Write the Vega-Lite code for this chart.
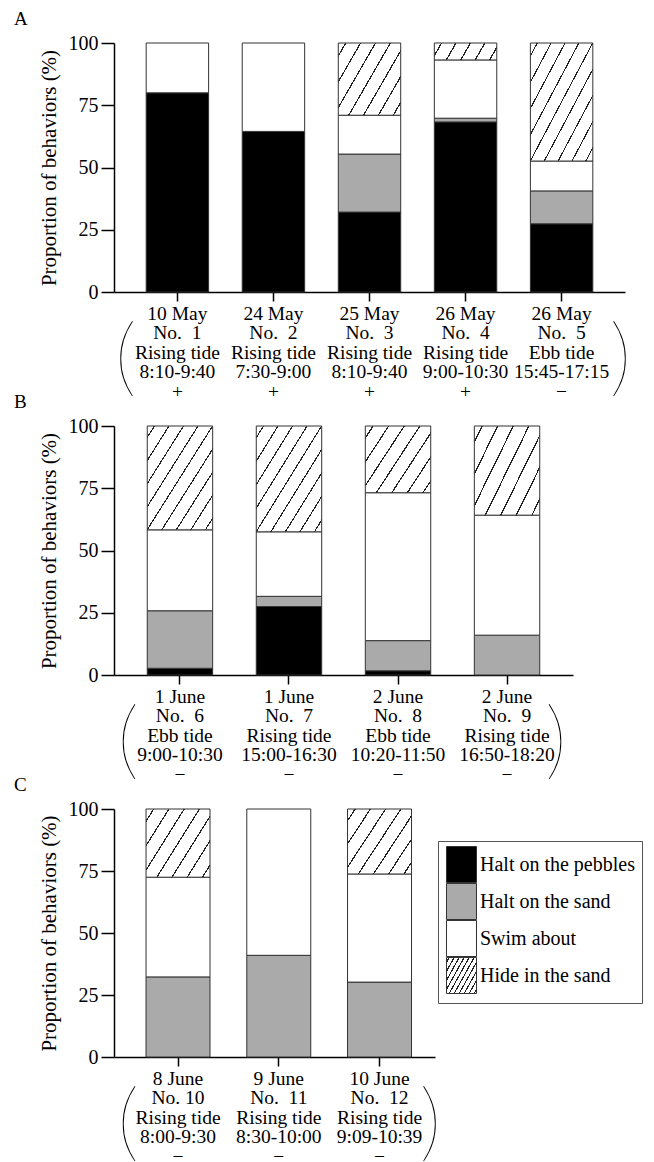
{
  "$schema": "https://vega.github.io/schema/vega-lite/v6.json",
  "padding": {"left": 14, "top": 10, "right": 0, "bottom": 0},
  "background": "white",
  "spacing": 134,
  "bounds": "flush",
  "resolve": {"scale": {"x": "independent", "y": "independent"}},
  "config": {
    "font": "Liberation Serif",
    "view": {"stroke": null},
    "title": {"font": "Liberation Serif", "fontSize": 19, "fontWeight": "normal", "color": "black", "anchor": "start", "frame": "group", "dx": -100, "offset": 4},
    "axis": {"labelFont": "Liberation Serif", "labelFontSize": 20, "labelColor": "black", "titleFont": "Liberation Serif", "titleFontSize": 21, "titleFontWeight": "normal", "titleColor": "black", "domainColor": "black", "domainWidth": 1.5, "tickColor": "black", "tickWidth": 1.5, "grid": false},
    "axisX": {"labelAngle": 0, "tickSize": 9, "labelPadding": 3, "labelFontSize": 19.5, "labelLineHeight": 19.6, "labelOverlap": false, "labelLimit": 0, "title": null},
    "axisY": {"labelPadding": 3, "titlePadding": 9},
    "legend": {"title": null, "orient": "none", "legendX": 324, "legendY": 798, "symbolType": "M-0.945,-1.134H0.945V1.134H-0.945Z", "symbolSize": 1008, "symbolStrokeColor": "#333", "symbolStrokeWidth": 1, "rowPadding": -5, "labelFont": "Liberation Serif", "labelFontSize": 20, "labelOffset": 2, "labelColor": "black", "strokeColor": "#555", "padding": 7, "symbolLimit": 0}
  },
  "vconcat": [
    {
      "title": {"text": "A"},
      "width": 511,
      "height": 249,
      "data": {"values": [
        {"label": "10 May|No.\u00a0 1|Rising tide|8:10-9:40|+", "n": 1, "k": 1, "behavior": "Halt on the pebbles", "value": 80},
        {"label": "10 May|No.\u00a0 1|Rising tide|8:10-9:40|+", "n": 1, "k": 3, "behavior": "Swim about", "value": 20},
        {"label": "24 May|No.\u00a0 2|Rising tide|7:30-9:00|+", "n": 2, "k": 1, "behavior": "Halt on the pebbles", "value": 64.5},
        {"label": "24 May|No.\u00a0 2|Rising tide|7:30-9:00|+", "n": 2, "k": 3, "behavior": "Swim about", "value": 35.5},
        {"label": "25 May|No.\u00a0 3|Rising tide|8:10-9:40|+", "n": 3, "k": 1, "behavior": "Halt on the pebbles", "value": 32.1},
        {"label": "25 May|No.\u00a0 3|Rising tide|8:10-9:40|+", "n": 3, "k": 2, "behavior": "Halt on the sand", "value": 23.3},
        {"label": "25 May|No.\u00a0 3|Rising tide|8:10-9:40|+", "n": 3, "k": 3, "behavior": "Swim about", "value": 15.6},
        {"label": "25 May|No.\u00a0 3|Rising tide|8:10-9:40|+", "n": 3, "k": 4, "behavior": "Hide in the sand", "value": 29},
        {"label": "26 May|No.\u00a0 4|Rising tide|9:00-10:30|+", "n": 4, "k": 1, "behavior": "Halt on the pebbles", "value": 68.3},
        {"label": "26 May|No.\u00a0 4|Rising tide|9:00-10:30|+", "n": 4, "k": 2, "behavior": "Halt on the sand", "value": 1.5},
        {"label": "26 May|No.\u00a0 4|Rising tide|9:00-10:30|+", "n": 4, "k": 3, "behavior": "Swim about", "value": 23.4},
        {"label": "26 May|No.\u00a0 4|Rising tide|9:00-10:30|+", "n": 4, "k": 4, "behavior": "Hide in the sand", "value": 6.8},
        {"label": "26 May|No.\u00a0 5|Ebb tide|15:45-17:15|−", "n": 5, "k": 1, "behavior": "Halt on the pebbles", "value": 27.4},
        {"label": "26 May|No.\u00a0 5|Ebb tide|15:45-17:15|−", "n": 5, "k": 2, "behavior": "Halt on the sand", "value": 13.2},
        {"label": "26 May|No.\u00a0 5|Ebb tide|15:45-17:15|−", "n": 5, "k": 3, "behavior": "Swim about", "value": 12},
        {"label": "26 May|No.\u00a0 5|Ebb tide|15:45-17:15|−", "n": 5, "k": 4, "behavior": "Hide in the sand", "value": 47.4}
      ]},
      "encoding": {
        "x": {"field": "label", "type": "nominal", "sort": null,
              "scale": {"paddingInner": 0.35, "paddingOuter": 0.335},
              "axis": {"labelExpr": "split(datum.value, '|')"}}
      },
      "layer": [
        {
          "mark": {"type": "bar", "stroke": "#333", "strokeWidth": 1},
          "encoding": {
            "y": {"field": "value", "type": "quantitative", "stack": "zero",
                  "scale": {"domain": [0, 100], "nice": false},
                  "axis": {"title": "Proportion of behaviors (%)", "values": [0, 12.5, 25, 37.5, 50, 62.5, 75, 87.5, 100],
                           "labelExpr": "datum.value % 25 === 0 ? datum.label : ''",
                           "tickSize": {"condition": {"test": "datum.value % 25 === 0", "value": 13}, "value": 5}}},
            "order": {"field": "k", "type": "quantitative"},
            "fill": {
              "condition": [
                {"test": "datum.k == 4 && datum.value > 38", "value": {"gradient": "linear", "x1": 0, "y1": 0, "x2": 1, "y2": 1, "stops": [
                  {"offset": 0, "color": "#fff"},
                  {"offset": 0.050, "color": "#fff"}, {"offset": 0.050, "color": "#222"}, {"offset": 0.060, "color": "#222"}, {"offset": 0.060, "color": "#fff"},
                  {"offset": 0.161, "color": "#fff"}, {"offset": 0.161, "color": "#222"}, {"offset": 0.171, "color": "#222"}, {"offset": 0.171, "color": "#fff"},
                  {"offset": 0.272, "color": "#fff"}, {"offset": 0.272, "color": "#222"}, {"offset": 0.282, "color": "#222"}, {"offset": 0.282, "color": "#fff"},
                  {"offset": 0.383, "color": "#fff"}, {"offset": 0.383, "color": "#222"}, {"offset": 0.393, "color": "#222"}, {"offset": 0.393, "color": "#fff"},
                  {"offset": 0.494, "color": "#fff"}, {"offset": 0.494, "color": "#222"}, {"offset": 0.504, "color": "#222"}, {"offset": 0.504, "color": "#fff"},
                  {"offset": 0.606, "color": "#fff"}, {"offset": 0.606, "color": "#222"}, {"offset": 0.616, "color": "#222"}, {"offset": 0.616, "color": "#fff"},
                  {"offset": 0.717, "color": "#fff"}, {"offset": 0.717, "color": "#222"}, {"offset": 0.727, "color": "#222"}, {"offset": 0.727, "color": "#fff"},
                  {"offset": 0.828, "color": "#fff"}, {"offset": 0.828, "color": "#222"}, {"offset": 0.838, "color": "#222"}, {"offset": 0.838, "color": "#fff"},
                  {"offset": 0.939, "color": "#fff"}, {"offset": 0.939, "color": "#222"}, {"offset": 0.949, "color": "#222"}, {"offset": 0.949, "color": "#fff"},
                  {"offset": 1, "color": "#fff"}]}},
                {"test": "datum.k == 4 && datum.value < 10", "value": {"gradient": "linear", "x1": 0, "y1": 0, "x2": 1.129, "y2": 0.176, "stops": [
                  {"offset": 0, "color": "#fff"},
                  {"offset": 0.09, "color": "#fff"}, {"offset": 0.09, "color": "#222"}, {"offset": 0.11, "color": "#222"}, {"offset": 0.11, "color": "#fff"},
                  {"offset": 0.29, "color": "#fff"}, {"offset": 0.29, "color": "#222"}, {"offset": 0.31, "color": "#222"}, {"offset": 0.31, "color": "#fff"},
                  {"offset": 0.49, "color": "#fff"}, {"offset": 0.49, "color": "#222"}, {"offset": 0.51, "color": "#222"}, {"offset": 0.51, "color": "#fff"},
                  {"offset": 0.69, "color": "#fff"}, {"offset": 0.69, "color": "#222"}, {"offset": 0.71, "color": "#222"}, {"offset": 0.71, "color": "#fff"},
                  {"offset": 0.89, "color": "#fff"}, {"offset": 0.89, "color": "#222"}, {"offset": 0.91, "color": "#222"}, {"offset": 0.91, "color": "#fff"},
                  {"offset": 1, "color": "#fff"}]}},
                {"test": "datum.k == 4", "value": {"gradient": "linear", "x1": 0, "y1": 0, "x2": 1.154, "y2": 0.769, "stops": [
                  {"offset": 0, "color": "#fff"},
                  {"offset": 0.065, "color": "#fff"}, {"offset": 0.065, "color": "#222"}, {"offset": 0.078, "color": "#222"}, {"offset": 0.078, "color": "#fff"},
                  {"offset": 0.208, "color": "#fff"}, {"offset": 0.208, "color": "#222"}, {"offset": 0.221, "color": "#222"}, {"offset": 0.221, "color": "#fff"},
                  {"offset": 0.351, "color": "#fff"}, {"offset": 0.351, "color": "#222"}, {"offset": 0.364, "color": "#222"}, {"offset": 0.364, "color": "#fff"},
                  {"offset": 0.494, "color": "#fff"}, {"offset": 0.494, "color": "#222"}, {"offset": 0.507, "color": "#222"}, {"offset": 0.507, "color": "#fff"},
                  {"offset": 0.636, "color": "#fff"}, {"offset": 0.636, "color": "#222"}, {"offset": 0.649, "color": "#222"}, {"offset": 0.649, "color": "#fff"},
                  {"offset": 0.779, "color": "#fff"}, {"offset": 0.779, "color": "#222"}, {"offset": 0.792, "color": "#222"}, {"offset": 0.792, "color": "#fff"},
                  {"offset": 0.922, "color": "#fff"}, {"offset": 0.922, "color": "#222"}, {"offset": 0.935, "color": "#222"}, {"offset": 0.935, "color": "#fff"},
                  {"offset": 1, "color": "#fff"}]}}
              ],
              "field": "behavior", "type": "nominal",
              "scale": {"domain": ["Halt on the pebbles", "Halt on the sand", "Swim about", "Hide in the sand"],
                        "range": ["#000000", "#aaaaaa", "#ffffff", {"expr": "{gradient: 'linear', x1: 0, y1: 0, x2: 1.154, y2: 0.769, stops: [{offset: 0, color: '#fff'}, {offset: 0.04, color: '#fff'}, {offset: 0.04, color: '#222'}, {offset: 0.065, color: '#222'}, {offset: 0.065, color: '#fff'}, {offset: 0.14, color: '#fff'}, {offset: 0.14, color: '#222'}, {offset: 0.165, color: '#222'}, {offset: 0.165, color: '#fff'}, {offset: 0.24, color: '#fff'}, {offset: 0.24, color: '#222'}, {offset: 0.265, color: '#222'}, {offset: 0.265, color: '#fff'}, {offset: 0.34, color: '#fff'}, {offset: 0.34, color: '#222'}, {offset: 0.365, color: '#222'}, {offset: 0.365, color: '#fff'}, {offset: 0.44, color: '#fff'}, {offset: 0.44, color: '#222'}, {offset: 0.465, color: '#222'}, {offset: 0.465, color: '#fff'}, {offset: 0.54, color: '#fff'}, {offset: 0.54, color: '#222'}, {offset: 0.565, color: '#222'}, {offset: 0.565, color: '#fff'}, {offset: 0.64, color: '#fff'}, {offset: 0.64, color: '#222'}, {offset: 0.665, color: '#222'}, {offset: 0.665, color: '#fff'}, {offset: 0.74, color: '#fff'}, {offset: 0.74, color: '#222'}, {offset: 0.765, color: '#222'}, {offset: 0.765, color: '#fff'}, {offset: 0.84, color: '#fff'}, {offset: 0.84, color: '#222'}, {offset: 0.865, color: '#222'}, {offset: 0.865, color: '#fff'}, {offset: 0.94, color: '#fff'}, {offset: 0.94, color: '#222'}, {offset: 0.965, color: '#222'}, {offset: 0.965, color: '#fff'}, {offset: 1, color: '#fff'}]}"}]},
              "legend": {"encoding": {"symbols": {"stroke": {"value": "#333"}, "strokeWidth": {"value": 1}}}}
            }
          }
        },
        {
          "transform": [{"filter": "datum.n == 1"}, {"aggregate": [{"op": "count", "as": "c"}], "groupby": ["label"]}],
          "mark": {"type": "text", "text": "(", "font": "Lato", "fontWeight": 200, "fontSize": 86, "baseline": "middle", "dx": -52, "dy": 68, "color": "black"},
          "encoding": {"y": {"datum": 0}}
        },
        {
          "transform": [{"filter": "datum.n == 5"}, {"aggregate": [{"op": "count", "as": "c"}], "groupby": ["label"]}],
          "mark": {"type": "text", "text": ")", "font": "Lato", "fontWeight": 200, "fontSize": 86, "baseline": "middle", "dx": 59, "dy": 68, "color": "black"},
          "encoding": {"y": {"datum": 0}}
        }
      ]
    },
    {
      "title": {"text": "B"},
      "width": 459,
      "height": 249,
      "data": {"values": [
        {"label": "1 June|No.\u00a0 6|Ebb tide|9:00-10:30|−", "n": 6, "k": 1, "behavior": "Halt on the pebbles", "value": 2.7},
        {"label": "1 June|No.\u00a0 6|Ebb tide|9:00-10:30|−", "n": 6, "k": 2, "behavior": "Halt on the sand", "value": 23.1},
        {"label": "1 June|No.\u00a0 6|Ebb tide|9:00-10:30|−", "n": 6, "k": 3, "behavior": "Swim about", "value": 32.5},
        {"label": "1 June|No.\u00a0 6|Ebb tide|9:00-10:30|−", "n": 6, "k": 4, "behavior": "Hide in the sand", "value": 41.7},
        {"label": "1 June|No.\u00a0 7|Rising tide|15:00-16:30|−", "n": 7, "k": 1, "behavior": "Halt on the pebbles", "value": 27.5},
        {"label": "1 June|No.\u00a0 7|Rising tide|15:00-16:30|−", "n": 7, "k": 2, "behavior": "Halt on the sand", "value": 4.1},
        {"label": "1 June|No.\u00a0 7|Rising tide|15:00-16:30|−", "n": 7, "k": 3, "behavior": "Swim about", "value": 25.9},
        {"label": "1 June|No.\u00a0 7|Rising tide|15:00-16:30|−", "n": 7, "k": 4, "behavior": "Hide in the sand", "value": 42.5},
        {"label": "2 June|No.\u00a0 8|Ebb tide|10:20-11:50|−", "n": 8, "k": 1, "behavior": "Halt on the pebbles", "value": 1.7},
        {"label": "2 June|No.\u00a0 8|Ebb tide|10:20-11:50|−", "n": 8, "k": 2, "behavior": "Halt on the sand", "value": 12.1},
        {"label": "2 June|No.\u00a0 8|Ebb tide|10:20-11:50|−", "n": 8, "k": 3, "behavior": "Swim about", "value": 59.4},
        {"label": "2 June|No.\u00a0 8|Ebb tide|10:20-11:50|−", "n": 8, "k": 4, "behavior": "Hide in the sand", "value": 26.8},
        {"label": "2 June|No.\u00a0 9|Rising tide|16:50-18:20|−", "n": 9, "k": 2, "behavior": "Halt on the sand", "value": 16},
        {"label": "2 June|No.\u00a0 9|Rising tide|16:50-18:20|−", "n": 9, "k": 3, "behavior": "Swim about", "value": 48.2},
        {"label": "2 June|No.\u00a0 9|Rising tide|16:50-18:20|−", "n": 9, "k": 4, "behavior": "Hide in the sand", "value": 35.8}
      ]},
      "encoding": {
        "x": {"field": "label", "type": "nominal", "sort": null,
              "scale": {"paddingInner": 0.4, "paddingOuter": 0.305},
              "axis": {"labelExpr": "split(datum.value, '|')"}}
      },
      "layer": [
        {
          "mark": {"type": "bar", "stroke": "#333", "strokeWidth": 1},
          "encoding": {
            "y": {"field": "value", "type": "quantitative", "stack": "zero",
                  "scale": {"domain": [0, 100], "nice": false},
                  "axis": {"title": "Proportion of behaviors (%)", "values": [0, 12.5, 25, 37.5, 50, 62.5, 75, 87.5, 100],
                           "labelExpr": "datum.value % 25 === 0 ? datum.label : ''",
                           "tickSize": {"condition": {"test": "datum.value % 25 === 0", "value": 13}, "value": 5}}},
            "order": {"field": "k", "type": "quantitative"},
            "fill": {
              "condition": [
                {"test": "datum.k == 4 && datum.value > 38", "value": {"gradient": "linear", "x1": 0, "y1": 0, "x2": 1, "y2": 1, "stops": [
                  {"offset": 0, "color": "#fff"},
                  {"offset": 0.050, "color": "#fff"}, {"offset": 0.050, "color": "#222"}, {"offset": 0.060, "color": "#222"}, {"offset": 0.060, "color": "#fff"},
                  {"offset": 0.161, "color": "#fff"}, {"offset": 0.161, "color": "#222"}, {"offset": 0.171, "color": "#222"}, {"offset": 0.171, "color": "#fff"},
                  {"offset": 0.272, "color": "#fff"}, {"offset": 0.272, "color": "#222"}, {"offset": 0.282, "color": "#222"}, {"offset": 0.282, "color": "#fff"},
                  {"offset": 0.383, "color": "#fff"}, {"offset": 0.383, "color": "#222"}, {"offset": 0.393, "color": "#222"}, {"offset": 0.393, "color": "#fff"},
                  {"offset": 0.494, "color": "#fff"}, {"offset": 0.494, "color": "#222"}, {"offset": 0.504, "color": "#222"}, {"offset": 0.504, "color": "#fff"},
                  {"offset": 0.606, "color": "#fff"}, {"offset": 0.606, "color": "#222"}, {"offset": 0.616, "color": "#222"}, {"offset": 0.616, "color": "#fff"},
                  {"offset": 0.717, "color": "#fff"}, {"offset": 0.717, "color": "#222"}, {"offset": 0.727, "color": "#222"}, {"offset": 0.727, "color": "#fff"},
                  {"offset": 0.828, "color": "#fff"}, {"offset": 0.828, "color": "#222"}, {"offset": 0.838, "color": "#222"}, {"offset": 0.838, "color": "#fff"},
                  {"offset": 0.939, "color": "#fff"}, {"offset": 0.939, "color": "#222"}, {"offset": 0.949, "color": "#222"}, {"offset": 0.949, "color": "#fff"},
                  {"offset": 1, "color": "#fff"}]}},
                {"test": "datum.k == 4", "value": {"gradient": "linear", "x1": 0, "y1": 0, "x2": 1.154, "y2": 0.769, "stops": [
                  {"offset": 0, "color": "#fff"},
                  {"offset": 0.065, "color": "#fff"}, {"offset": 0.065, "color": "#222"}, {"offset": 0.078, "color": "#222"}, {"offset": 0.078, "color": "#fff"},
                  {"offset": 0.208, "color": "#fff"}, {"offset": 0.208, "color": "#222"}, {"offset": 0.221, "color": "#222"}, {"offset": 0.221, "color": "#fff"},
                  {"offset": 0.351, "color": "#fff"}, {"offset": 0.351, "color": "#222"}, {"offset": 0.364, "color": "#222"}, {"offset": 0.364, "color": "#fff"},
                  {"offset": 0.494, "color": "#fff"}, {"offset": 0.494, "color": "#222"}, {"offset": 0.507, "color": "#222"}, {"offset": 0.507, "color": "#fff"},
                  {"offset": 0.636, "color": "#fff"}, {"offset": 0.636, "color": "#222"}, {"offset": 0.649, "color": "#222"}, {"offset": 0.649, "color": "#fff"},
                  {"offset": 0.779, "color": "#fff"}, {"offset": 0.779, "color": "#222"}, {"offset": 0.792, "color": "#222"}, {"offset": 0.792, "color": "#fff"},
                  {"offset": 0.922, "color": "#fff"}, {"offset": 0.922, "color": "#222"}, {"offset": 0.935, "color": "#222"}, {"offset": 0.935, "color": "#fff"},
                  {"offset": 1, "color": "#fff"}]}}
              ],
              "field": "behavior", "type": "nominal",
              "scale": {"domain": ["Halt on the pebbles", "Halt on the sand", "Swim about", "Hide in the sand"],
                        "range": ["#000000", "#aaaaaa", "#ffffff", {"expr": "{gradient: 'linear', x1: 0, y1: 0, x2: 1.154, y2: 0.769, stops: [{offset: 0, color: '#fff'}, {offset: 0.04, color: '#fff'}, {offset: 0.04, color: '#222'}, {offset: 0.065, color: '#222'}, {offset: 0.065, color: '#fff'}, {offset: 0.14, color: '#fff'}, {offset: 0.14, color: '#222'}, {offset: 0.165, color: '#222'}, {offset: 0.165, color: '#fff'}, {offset: 0.24, color: '#fff'}, {offset: 0.24, color: '#222'}, {offset: 0.265, color: '#222'}, {offset: 0.265, color: '#fff'}, {offset: 0.34, color: '#fff'}, {offset: 0.34, color: '#222'}, {offset: 0.365, color: '#222'}, {offset: 0.365, color: '#fff'}, {offset: 0.44, color: '#fff'}, {offset: 0.44, color: '#222'}, {offset: 0.465, color: '#222'}, {offset: 0.465, color: '#fff'}, {offset: 0.54, color: '#fff'}, {offset: 0.54, color: '#222'}, {offset: 0.565, color: '#222'}, {offset: 0.565, color: '#fff'}, {offset: 0.64, color: '#fff'}, {offset: 0.64, color: '#222'}, {offset: 0.665, color: '#222'}, {offset: 0.665, color: '#fff'}, {offset: 0.74, color: '#fff'}, {offset: 0.74, color: '#222'}, {offset: 0.765, color: '#222'}, {offset: 0.765, color: '#fff'}, {offset: 0.84, color: '#fff'}, {offset: 0.84, color: '#222'}, {offset: 0.865, color: '#222'}, {offset: 0.865, color: '#fff'}, {offset: 0.94, color: '#fff'}, {offset: 0.94, color: '#222'}, {offset: 0.965, color: '#222'}, {offset: 0.965, color: '#fff'}, {offset: 1, color: '#fff'}]}"}]},
              "legend": {"encoding": {"symbols": {"stroke": {"value": "#333"}, "strokeWidth": {"value": 1}}}}
            }
          }
        },
        {
          "transform": [{"filter": "datum.n == 6"}, {"aggregate": [{"op": "count", "as": "c"}], "groupby": ["label"]}],
          "mark": {"type": "text", "text": "(", "font": "Lato", "fontWeight": 200, "fontSize": 86, "baseline": "middle", "dx": -52, "dy": 68, "color": "black"},
          "encoding": {"y": {"datum": 0}}
        },
        {
          "transform": [{"filter": "datum.n == 9"}, {"aggregate": [{"op": "count", "as": "c"}], "groupby": ["label"]}],
          "mark": {"type": "text", "text": ")", "font": "Lato", "fontWeight": 200, "fontSize": 86, "baseline": "middle", "dx": 49, "dy": 68, "color": "black"},
          "encoding": {"y": {"datum": 0}}
        }
      ]
    },
    {
      "title": {"text": "C"},
      "width": 321,
      "height": 248,
      "data": {"values": [
        {"label": "8 June|No. 10|Rising tide|8:00-9:30|−", "n": 10, "k": 2, "behavior": "Halt on the sand", "value": 32.3},
        {"label": "8 June|No. 10|Rising tide|8:00-9:30|−", "n": 10, "k": 3, "behavior": "Swim about", "value": 40.2},
        {"label": "8 June|No. 10|Rising tide|8:00-9:30|−", "n": 10, "k": 4, "behavior": "Hide in the sand", "value": 27.5},
        {"label": "9 June|No.\u00a0 11|Rising tide|8:30-10:00|−", "n": 11, "k": 2, "behavior": "Halt on the sand", "value": 41},
        {"label": "9 June|No.\u00a0 11|Rising tide|8:30-10:00|−", "n": 11, "k": 3, "behavior": "Swim about", "value": 59},
        {"label": "10 June|No.\u00a0 12|Rising tide|9:09-10:39|−", "n": 12, "k": 2, "behavior": "Halt on the sand", "value": 30.2},
        {"label": "10 June|No.\u00a0 12|Rising tide|9:09-10:39|−", "n": 12, "k": 3, "behavior": "Swim about", "value": 43.6},
        {"label": "10 June|No.\u00a0 12|Rising tide|9:09-10:39|−", "n": 12, "k": 4, "behavior": "Hide in the sand", "value": 26.2}
      ]},
      "encoding": {
        "x": {"field": "label", "type": "nominal", "sort": null,
              "scale": {"paddingInner": 0.365, "paddingOuter": 0.2755, "align": 0.577},
              "axis": {"labelExpr": "split(datum.value, '|')"}}
      },
      "layer": [
        {
          "mark": {"type": "bar", "stroke": "#333", "strokeWidth": 1},
          "encoding": {
            "y": {"field": "value", "type": "quantitative", "stack": "zero",
                  "scale": {"domain": [0, 100], "nice": false},
                  "axis": {"title": "Proportion of behaviors (%)", "values": [0, 12.5, 25, 37.5, 50, 62.5, 75, 87.5, 100],
                           "labelExpr": "datum.value % 25 === 0 ? datum.label : ''",
                           "tickSize": {"condition": {"test": "datum.value % 25 === 0", "value": 13}, "value": 5}}},
            "order": {"field": "k", "type": "quantitative"},
            "fill": {
              "condition": [
                {"test": "datum.k == 4", "value": {"gradient": "linear", "x1": 0, "y1": 0, "x2": 1.154, "y2": 0.769, "stops": [
                  {"offset": 0, "color": "#fff"},
                  {"offset": 0.065, "color": "#fff"}, {"offset": 0.065, "color": "#222"}, {"offset": 0.078, "color": "#222"}, {"offset": 0.078, "color": "#fff"},
                  {"offset": 0.208, "color": "#fff"}, {"offset": 0.208, "color": "#222"}, {"offset": 0.221, "color": "#222"}, {"offset": 0.221, "color": "#fff"},
                  {"offset": 0.351, "color": "#fff"}, {"offset": 0.351, "color": "#222"}, {"offset": 0.364, "color": "#222"}, {"offset": 0.364, "color": "#fff"},
                  {"offset": 0.494, "color": "#fff"}, {"offset": 0.494, "color": "#222"}, {"offset": 0.507, "color": "#222"}, {"offset": 0.507, "color": "#fff"},
                  {"offset": 0.636, "color": "#fff"}, {"offset": 0.636, "color": "#222"}, {"offset": 0.649, "color": "#222"}, {"offset": 0.649, "color": "#fff"},
                  {"offset": 0.779, "color": "#fff"}, {"offset": 0.779, "color": "#222"}, {"offset": 0.792, "color": "#222"}, {"offset": 0.792, "color": "#fff"},
                  {"offset": 0.922, "color": "#fff"}, {"offset": 0.922, "color": "#222"}, {"offset": 0.935, "color": "#222"}, {"offset": 0.935, "color": "#fff"},
                  {"offset": 1, "color": "#fff"}]}}
              ],
              "field": "behavior", "type": "nominal",
              "scale": {"domain": ["Halt on the pebbles", "Halt on the sand", "Swim about", "Hide in the sand"],
                        "range": ["#000000", "#aaaaaa", "#ffffff", {"expr": "{gradient: 'linear', x1: 0, y1: 0, x2: 1.154, y2: 0.769, stops: [{offset: 0, color: '#fff'}, {offset: 0.04, color: '#fff'}, {offset: 0.04, color: '#222'}, {offset: 0.065, color: '#222'}, {offset: 0.065, color: '#fff'}, {offset: 0.14, color: '#fff'}, {offset: 0.14, color: '#222'}, {offset: 0.165, color: '#222'}, {offset: 0.165, color: '#fff'}, {offset: 0.24, color: '#fff'}, {offset: 0.24, color: '#222'}, {offset: 0.265, color: '#222'}, {offset: 0.265, color: '#fff'}, {offset: 0.34, color: '#fff'}, {offset: 0.34, color: '#222'}, {offset: 0.365, color: '#222'}, {offset: 0.365, color: '#fff'}, {offset: 0.44, color: '#fff'}, {offset: 0.44, color: '#222'}, {offset: 0.465, color: '#222'}, {offset: 0.465, color: '#fff'}, {offset: 0.54, color: '#fff'}, {offset: 0.54, color: '#222'}, {offset: 0.565, color: '#222'}, {offset: 0.565, color: '#fff'}, {offset: 0.64, color: '#fff'}, {offset: 0.64, color: '#222'}, {offset: 0.665, color: '#222'}, {offset: 0.665, color: '#fff'}, {offset: 0.74, color: '#fff'}, {offset: 0.74, color: '#222'}, {offset: 0.765, color: '#222'}, {offset: 0.765, color: '#fff'}, {offset: 0.84, color: '#fff'}, {offset: 0.84, color: '#222'}, {offset: 0.865, color: '#222'}, {offset: 0.865, color: '#fff'}, {offset: 0.94, color: '#fff'}, {offset: 0.94, color: '#222'}, {offset: 0.965, color: '#222'}, {offset: 0.965, color: '#fff'}, {offset: 1, color: '#fff'}]}"}]},
              "legend": {"encoding": {"symbols": {"stroke": {"value": "#333"}, "strokeWidth": {"value": 1}}}}
            }
          }
        },
        {
          "transform": [{"filter": "datum.n == 10"}, {"aggregate": [{"op": "count", "as": "c"}], "groupby": ["label"]}],
          "mark": {"type": "text", "text": "(", "font": "Lato", "fontWeight": 200, "fontSize": 86, "baseline": "middle", "dx": -50, "dy": 68, "color": "black"},
          "encoding": {"y": {"datum": 0}}
        },
        {
          "transform": [{"filter": "datum.n == 12"}, {"aggregate": [{"op": "count", "as": "c"}], "groupby": ["label"]}],
          "mark": {"type": "text", "text": ")", "font": "Lato", "fontWeight": 200, "fontSize": 86, "baseline": "middle", "dx": 51, "dy": 68, "color": "black"},
          "encoding": {"y": {"datum": 0}}
        }
      ]
    }
  ]
}
